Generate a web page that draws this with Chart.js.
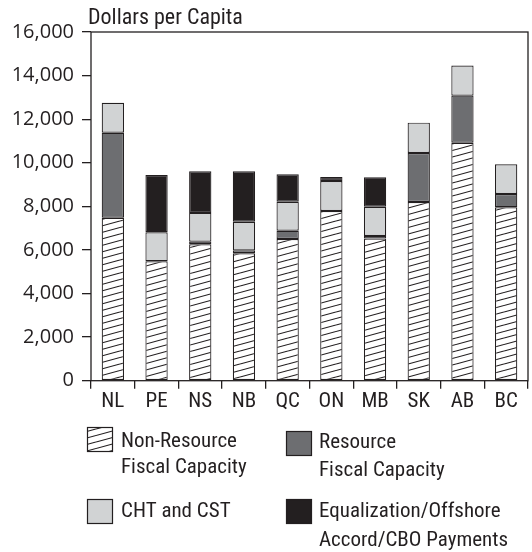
<!DOCTYPE html>
<html>
<head>
<meta charset="utf-8">
<script src="https://cdn.jsdelivr.net/npm/chart.js@4"></script>
<style>
  html, body { margin: 0; padding: 0; background: #fff; }
  #wrap { position: relative; width: 532px; height: 552px; }
</style>
</head>
<body>
<div id="wrap"><canvas id="capChart" width="532" height="552"></canvas></div>
<script>
// provinces along the x axis
var provinces = ['NL', 'PE', 'NS', 'NB', 'QC', 'ON', 'MB', 'SK', 'AB', 'BC'];

// dollars per capita, stacked bottom to top
var nonResource  = [7480, 5480, 6260, 5850, 6500, 7790, 6520, 8200, 10920, 7960];
var resource     = [3900,    0,  120,  130,  380,    0,  120, 2250,  2160,  610];
var chtCst       = [1375, 1330, 1320, 1310, 1330, 1370, 1340, 1390,  1380, 1360];
var equalization = [   0, 2630, 1910, 2320, 1260,  190, 1360,    0,     0,    0];

var yTicks = [0, 2000, 4000, 6000, 8000, 10000, 12000, 14000, 16000];

var legendText = [
  ['Non-Resource', 'Fiscal Capacity'],
  ['Resource', 'Fiscal Capacity'],
  ['CHT and CST'],
  ['Equalization/Offshore', 'Accord/CBO Payments']
];

var ink = '#231f20';
var textFam = '"Roboto Condensed", Roboto, sans-serif';
var numFam = '"Open Sans", "Noto Sans", sans-serif';

// white tile with shallow rising stripes
function makeHatch() {
  var c = document.createElement('canvas');
  c.width = 24; c.height = 13;
  var g = c.getContext('2d');
  g.fillStyle = '#fff';
  g.fillRect(0, 0, 24, 13);
  g.strokeStyle = ink;
  g.lineWidth = 1.1;
  for (var k = 0; k <= 3; k++) {
    g.beginPath();
    g.moveTo(0, k * 6.5);
    g.lineTo(24, (k - 1) * 6.5);
    g.stroke();
  }
  return g.createPattern(c, 'repeat');
}
var hatch = makeHatch();

var fills = [hatch, '#6d6e71', '#d1d3d4', ink];

// box round the plot, title and the 2x2 legend
var extras = {
  id: 'extras',
  afterDraw: function(chart) {
    var ctx = chart.ctx, a = chart.chartArea;
    ctx.save();
    ctx.strokeStyle = ink;
    ctx.lineWidth = 1.3;
    ctx.strokeRect(a.left, a.top, a.right - a.left, a.bottom - a.top);

    ctx.fillStyle = ink;
    ctx.font = '22px ' + textFam;
    ctx.textBaseline = 'alphabetic';
    ctx.fillText('Dollars per Capita', 88, 24);

    var items = [
      { x: 87,  y: 427, tx: 121, lines: [442, 468] },
      { x: 286, y: 431, tx: 319, lines: [443, 471] },
      { x: 87,  y: 499, tx: 121, lines: [512] },
      { x: 286, y: 499, tx: 319, lines: [512, 541] }
    ];
    ctx.font = '21px ' + textFam;
    ctx.textBaseline = 'middle';
    items.forEach(function(it, i) {
      ctx.fillStyle = fills[i];
      ctx.fillRect(it.x, it.y, 26, 25);
      ctx.strokeStyle = ink;
      ctx.lineWidth = 1.2;
      ctx.strokeRect(it.x + 0.5, it.y + 0.5, 25, 24);
      ctx.fillStyle = ink;
      legendText[i].forEach(function(t, j) {
        ctx.fillText(t, it.tx, it.lines[j]);
      });
    });
    ctx.restore();
  }
};

function seg(label, data, fill) {
  return {
    label: label,
    data: data,
    backgroundColor: fill,
    borderColor: ink,
    borderWidth: 1.2,
    borderSkipped: false,
    categoryPercentage: 1,
    barPercentage: 0.51
  };
}

new Chart(document.getElementById('capChart'), {
  type: 'bar',
  data: {
    labels: provinces,
    datasets: [
      seg('Non-Resource Fiscal Capacity', nonResource, fills[0]),
      seg('Resource Fiscal Capacity', resource, fills[1]),
      seg('CHT and CST', chtCst, fills[2]),
      seg('Equalization/Offshore Accord/CBO Payments', equalization, fills[3])
    ]
  },
  options: {
    responsive: false,
    animation: false,
    layout: { padding: { top: 32, right: 4, left: 0, bottom: 0 } },
    plugins: { legend: { display: false }, tooltip: { enabled: false }, title: { display: false } },
    scales: {
      x: {
        stacked: true,
        border: { display: false },
        grid: { offset: true, drawOnChartArea: false, drawTicks: true, tickLength: 8, color: ink, lineWidth: 1.3 },
        ticks: { color: ink, padding: 0, font: { family: textFam, size: 21 } },
        afterFit: function(s) { s.height = 171.3; }
      },
      y: {
        stacked: true,
        min: 0,
        max: 16000,
        border: { display: false },
        afterBuildTicks: function(s) { s.ticks = yTicks.map(function(v) { return { value: v }; }); },
        grid: { drawOnChartArea: false, drawTicks: true, tickLength: 9, color: ink, lineWidth: 1.3 },
        ticks: {
          color: ink,
          padding: 8,
          font: { family: numFam, size: 20 },
          callback: function(v) { return v.toLocaleString('en-US'); }
        },
        afterFit: function(s) { s.width = 91; }
      }
    }
  },
  plugins: [extras]
});
</script>
</body>
</html>
